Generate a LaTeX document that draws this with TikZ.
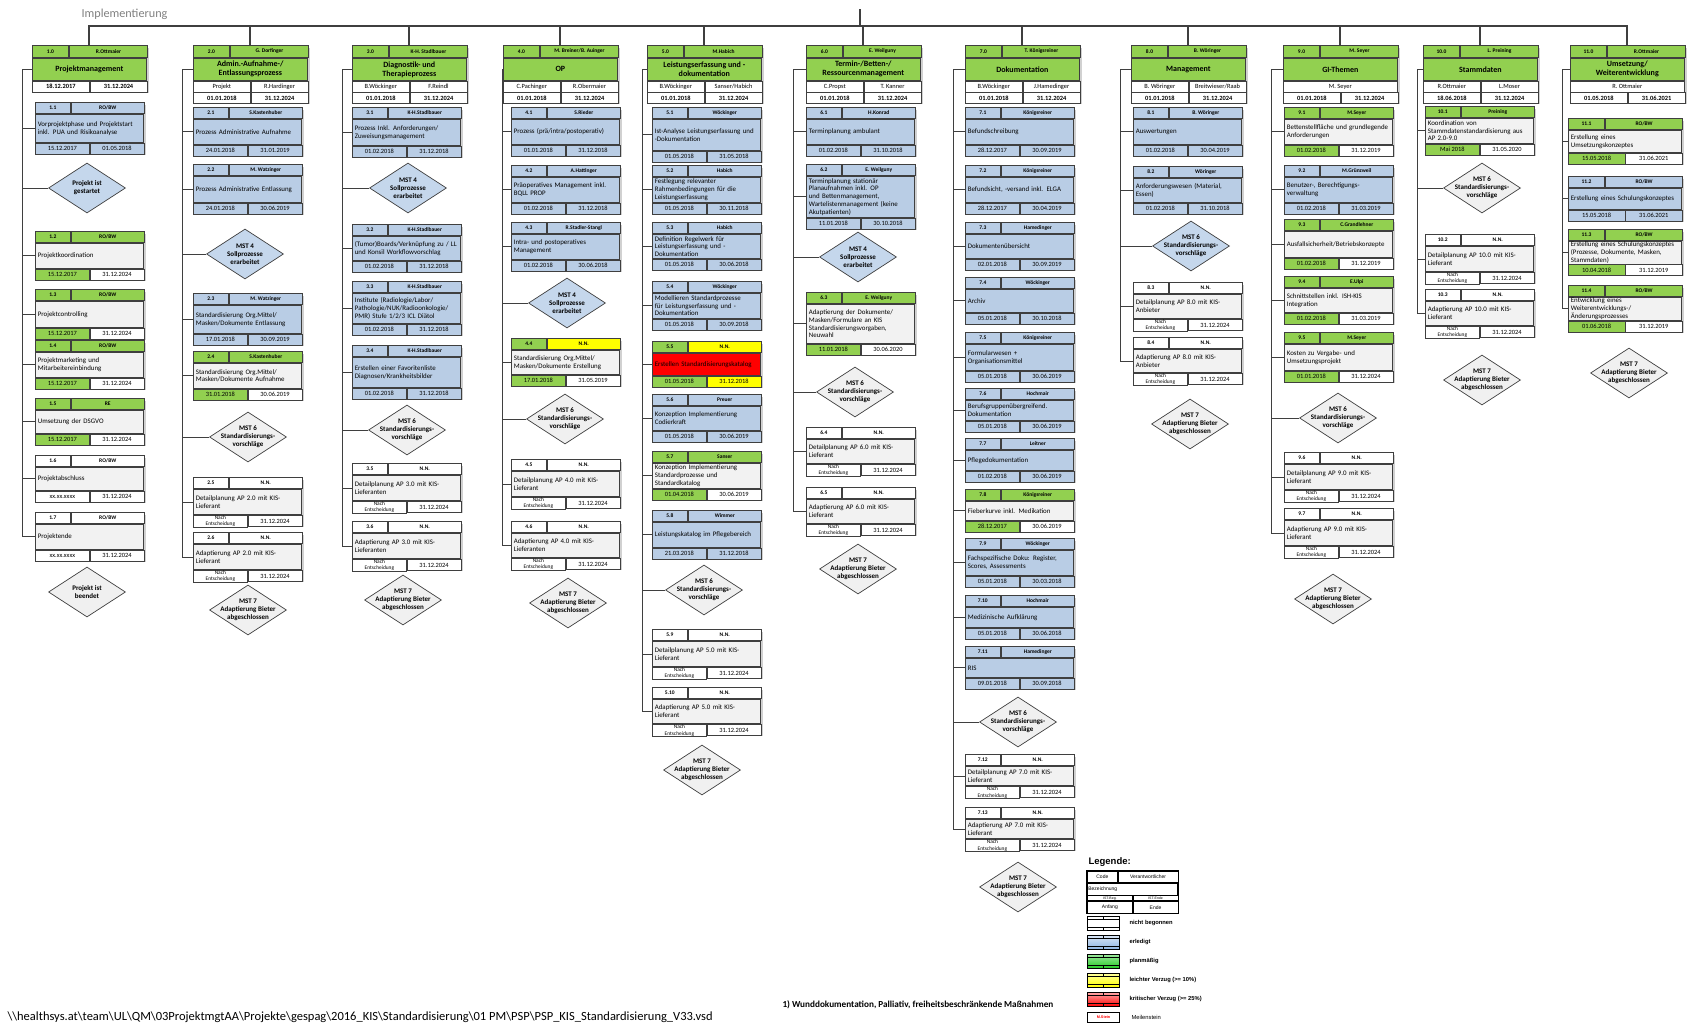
\documentclass[tikz,border=0pt]{standalone}
\usepackage{fontspec}
\setmainfont{Carlito}
\newfontfamily\legfont{Liberation Sans}
\usetikzlibrary{shapes.geometric,fit}
\hyphenpenalty=10000

\definecolor{wpgreen}{HTML}{92D050}
\definecolor{wpblue}{HTML}{B9CDE5}
\definecolor{wpyellow}{HTML}{FFFF00}
\definecolor{wpred}{HTML}{FF0000}
\definecolor{wpgray}{HTML}{F2F2F2}
\definecolor{msblue}{HTML}{C5D7EC}
\definecolor{msgray}{HTML}{F0F0F0}
\definecolor{wpline}{HTML}{3F3F3F}
\definecolor{lgblue}{HTML}{8EB4E3}
\definecolor{lggreen}{HTML}{22CC22}

\tikzset{
  cell/.style={draw=wpline, line width=0.7pt, inner sep=0.4pt, align=center, font=\fontsize{6.4}{6.8}\selectfont},
  topcell/.style={cell, line width=1pt, minimum height=11, font=\fontsize{5.5}{6}\selectfont\bfseries},
  midcell/.style={cell, align=left, inner xsep=2.5pt, inner ysep=0.8pt, font=\fontsize{6.9}{7.7}\selectfont},
  datecell/.style={cell, minimum height=11},
  hdinfo/.style={font=\fontsize{6.4}{6.8}\selectfont},
  hddate/.style={font=\fontsize{6.4}{6.8}\selectfont\bfseries},
  conn/.style={draw=wpline, line width=0.9pt},
  mstone/.style={diamond, draw=wpline, line width=0.7pt, aspect=1.54, inner sep=-2.6pt, minimum width=77, minimum height=50, align=center, font=\fontsize{7}{8}\selectfont\bfseries},
  lgcell/.style={draw=black, line width=0.7pt, inner sep=0.3pt, align=center, font=\legfont\fontsize{5}{5.5}\selectfont},
  swatch/.style={draw=black, line width=1pt, minimum width=32, minimum height=14, inner sep=0pt},
  lgtext/.style={font=\legfont\bfseries\fontsize{5.8}{6.5}\selectfont},
}

% Farbschema der Arbeitspakete
\newcommand\setfill[5]{\def\fA{#1}\def\fB{#2}\def\fC{#3}\def\fD{#4}\def\fE{#5}}
\newcommand\stblue{\setfill{wpblue}{wpblue}{wpblue}{wpblue}{wpblue}}
\newcommand\stgreen{\setfill{wpgreen}{wpgreen}{wpgray}{wpgreen}{white}}
\newcommand\stwhite{\setfill{white}{white}{wpgray}{white}{white}}
\newcommand\styellow{\setfill{wpgreen}{wpyellow}{wpgray}{wpgreen}{white}}
\newcommand\stred{\setfill{wpgreen}{wpyellow}{wpred}{wpgreen}{wpyellow}}
\newcommand\setw[1]{\def\wpw{#1}\pgfmathsetmacro\wpt{#1-5}\pgfmathsetmacro\wpa{0.32*#1}\pgfmathsetmacro\wpb{0.68*#1}\pgfmathsetmacro\wph{0.5*#1}}
\newcommand\nachE{{\fontsize{5.4}{5.4}\selectfont\shortstack{Nach\\Entscheidung}}}

% Arbeitspaket: name, x, y, hoehe, code, verantw., text, anfang, ende
\newcommand\wpbox[9]{%
  \fill[black!18] ({#2+2.5},{#3+2.5}) rectangle ++(\wpw,#4);
  \node[topcell, fill=\fA, minimum width=\wpa, anchor=north west] (#1c) at (#2,#3) {#5};
  \node[topcell, fill=\fB, minimum width=\wpb, anchor=west] (#1r) at (#1c.east) {#6};
  \node[midcell, fill=\fC, text width=\wpt pt, minimum height={#4-22}, anchor=north west] (#1m) at (#1c.south west) {#7};
  \node[datecell, fill=\fD, minimum width=\wph, anchor=north west] (#1s) at (#1m.south west) {#8};
  \node[datecell, fill=\fE, minimum width=\wph, anchor=west] (#1e) at (#1s.east) {#9};
  \node[fit=(#1c)(#1e), inner sep=0pt] (#1) {};
}
% Kopf einer Spalte: name, x, code, verantw., titel, gesamthoehe
\newcommand\hdbox[6]{%
  \fill[black!18] ({#2+2.5},47.5) rectangle ++(114,#6);
  \coordinate (#1) at ({#2+57},45);
  \node[topcell, fill=wpgreen, minimum width=36, minimum height=12, anchor=north west] (#1c) at (#2,45) {#3};
  \node[topcell, fill=wpgreen, minimum width=78, minimum height=12, anchor=west] (#1r) at (#1c.east) {#4};
  \node[cell, fill=wpgreen, minimum width=114, minimum height=22, anchor=north west, font=\fontsize{8}{9}\selectfont\bfseries] (#1t) at (#1c.south west) {#5};
}
\newcommand\hdrow[5]{%
  \node[cell, fill=white, #5, minimum width=57, minimum height=11, anchor=north west] (#2l) at (#1.south west) {#3};
  \node[cell, fill=white, #5, minimum width=57, minimum height=11, anchor=west] (#2r) at (#2l.east) {#4};
}

\begin{document}
\begin{tikzpicture}[x=1pt, y=-1pt]
\useasboundingbox (0,0) rectangle (1691,1031);

\node[anchor=west, text=black!50, font=\fontsize{12.2}{13}\selectfont] (impl) at (78,14) {Implementierung};
\coordinate (root) at (860,9);
\coordinate (bus) at (860,26);

\setw{108}
% 1.0 Projektmanagement
\hdbox{h1}{32}{1.0}{R.Ottmaier}{Projektmanagement}{45}
\hdrow{h1t}{h1a}{18.12.2017}{31.12.2024}{hddate}
\stblue
\wpbox{b11}{35}{102}{50}{1.1}{RO/BW}{Vorprojektphase und Projektstart inkl. PUA und Risikoanalyse}{15.12.2017}{01.05.2018}
\node[mstone, fill=msblue] (m1a) at (87,188) {Projekt ist\\gestartet};
\stgreen
\wpbox{b12}{35}{231}{47}{1.2}{RO/BW}{Projektkoordination}{15.12.2017}{31.12.2024}
\wpbox{b13}{35}{289}{48}{1.3}{RO/BW}{Projektcontrolling}{15.12.2017}{31.12.2024}
\wpbox{b14}{35}{340}{47}{1.4}{RO/BW}{Projektmarketing und Mitarbeitereinbindung}{15.12.2017}{31.12.2024}
\wpbox{b15}{35}{398}{45}{1.5}{RE}{Umsetzung der DSGVO}{15.12.2017}{31.12.2024}
\stwhite
\wpbox{b16}{35}{455}{45}{1.6}{RO/BW}{Projektabschluss}{xx.xx.xxxx}{31.12.2024}
\wpbox{b17}{35}{512}{47}{1.7}{RO/BW}{Projektende}{xx.xx.xxxx}{31.12.2024}
\node[mstone, fill=msgray] (m1b) at (87,592) {Projekt ist\\beendet};

% 2.0 Admin.-Aufnahme
\hdbox{h2}{193}{2.0}{G. Dorfinger}{Admin.-Aufnahme-/\\Entlassungsprozess}{56}
\hdrow{h2t}{h2a}{Projekt}{R.Hardinger}{hdinfo}
\hdrow{h2al}{h2b}{01.01.2018}{31.12.2024}{hddate}
\stblue
\wpbox{b21}{193}{107}{47}{2.1}{S.Kastenhuber}{Prozess Administrative Aufnahme}{24.01.2018}{31.01.2019}
\wpbox{b22}{193}{164}{48}{2.2}{M. Watzinger}{Prozess Administrative Entlassung}{24.01.2018}{30.06.2019}
\node[mstone, fill=msblue] (m24) at (245,254) {MST 4\\Sollprozesse\\erarbeitet};
\wpbox{b23}{193}{293}{50}{2.3}{M. Watzinger}{Standardisierung Org.Mittel/ Masken/Dokumente Entlassung}{17.01.2018}{30.09.2019}
\stgreen
\wpbox{b24}{193}{351}{47}{2.4}{S.Kastenhuber}{Standardisierung Org.Mittel/ Masken/Dokumente Aufnahme}{31.01.2018}{30.06.2019}
\node[mstone, fill=msgray] (m26) at (248,437) {MST 6\\Standardisierungs-\\vorschläge};
\stwhite
\wpbox{b25}{193}{477}{47}{2.5}{N.N.}{Detailplanung AP 2.0 mit KIS-Lieferant}{\nachE}{31.12.2024}
\wpbox{b26}{193}{532}{47}{2.6}{N.N.}{Adaptierung AP 2.0 mit KIS-Lieferant}{\nachE}{31.12.2024}
\node[mstone, fill=msgray] (m27) at (248,610) {MST 7\\Adaptierung Bieter\\abgeschlossen};

% 3.0 Diagnostik
\hdbox{h3}{352}{3.0}{K-H. Stadlbauer}{Diagnostik- und\\Therapieprozess}{56}
\hdrow{h3t}{h3a}{B.Wöckinger}{F.Reindl}{hdinfo}
\hdrow{h3al}{h3b}{01.01.2018}{31.12.2024}{hddate}
\stblue
\wpbox{b31}{352}{107}{48}{3.1}{K-H.Stadlbauer}{Prozess Inkl. Anforderungen/ Zuweisungsmanagement}{01.02.2018}{31.12.2018}
\node[mstone, fill=msblue] (m34) at (408,188) {MST 4\\Sollprozesse\\erarbeitet};
\wpbox{b32}{352}{224}{46}{3.2}{K-H.Stadlbauer}{(Tumor)Boards/Verknüpfung zu / LL und Konsil Workflowvorschlag}{01.02.2018}{31.12.2018}
\wpbox{b33}{352}{281}{52}{3.3}{K-H.Stadlbauer}{Institute (Radiologie/Labor/ Pathologie/NUK/Radioonkologie/ PMR) Stufe 1/2/3 ICL Diätol}{01.02.2018}{31.12.2018}
\wpbox{b34}{352}{345}{52}{3.4}{K-H.Stadlbauer}{\centering Erstellen einer Favoritenliste Diagnosen/Krankheitsbilder}{01.02.2018}{31.12.2018}
\node[mstone, fill=msgray] (m36) at (407,430) {MST 6\\Standardisierungs-\\vorschläge};
\stwhite
\wpbox{b35}{352}{463}{47}{3.5}{N.N.}{Detailplanung AP 3.0 mit KIS-Lieferanten}{\nachE}{31.12.2024}
\wpbox{b36}{352}{521}{47}{3.6}{N.N.}{Adaptierung AP 3.0 mit KIS-Lieferanten}{\nachE}{31.12.2024}
\node[mstone, fill=msgray] (m37) at (403,600) {MST 7\\Adaptierung Bieter\\abgeschlossen};

% 4.0 OP
\hdbox{h4}{503}{4.0}{M. Breiner/B. Auinger}{OP}{56}
\hdrow{h4t}{h4a}{C.Pachinger}{R.Obermaier}{hdinfo}
\hdrow{h4al}{h4b}{01.01.2018}{31.12.2024}{hddate}
\stblue
\wpbox{b41}{511}{107}{47}{4.1}{S.Rieder}{Prozess (prä/intra/postoperativ)}{01.01.2018}{31.12.2018}
\wpbox{b42}{511}{165}{47}{4.2}{A.Hattinger}{Präoperatives Management inkl. BQLL PROP}{01.02.2018}{31.12.2018}
\wpbox{b43}{511}{222}{47}{4.3}{R.Stadler-Stangl}{Intra- und postoperatives Management}{01.02.2018}{30.06.2018}
\node[mstone, fill=msblue] (m44) at (567,303) {MST 4\\Sollprozesse\\erarbeitet};
\styellow
\wpbox{b44}{511}{338}{46}{4.4}{N.N.}{Standardisierung Org.Mittel/ Masken/Dokumente Erstellung}{17.01.2018}{31.05.2019}
\node[mstone, fill=msgray] (m46) at (565,419) {MST 6\\Standardisierungs-\\vorschläge};
\stwhite
\wpbox{b45}{511}{459}{47}{4.5}{N.N.}{Detailplanung AP 4.0 mit KIS-Lieferant}{\nachE}{31.12.2024}
\wpbox{b46}{511}{521}{46}{4.6}{N.N.}{Adaptierung AP 4.0 mit KIS-Lieferanten}{\nachE}{31.12.2024}
\node[mstone, fill=msgray] (m47) at (568,603) {MST 7\\Adaptierung Bieter\\abgeschlossen};

% 5.0 Leistungserfassung
\hdbox{h5}{647}{5.0}{M.Habich}{Leistungserfassung und -\\dokumentation}{56}
\hdrow{h5t}{h5a}{B.Wöckinger}{Sanser/Habich}{hdinfo}
\hdrow{h5al}{h5b}{01.01.2018}{31.12.2024}{hddate}
\stblue
\wpbox{b51}{652}{107}{53}{5.1}{Wöckinger}{\centering Ist-Analyse Leistungserfassung und -Dokumentation}{01.05.2018}{31.05.2018}
\wpbox{b52}{652}{165}{47}{5.2}{Habich}{Festlegung relevanter Rahmenbedingungen für die Leistungserfassung}{01.05.2018}{30.11.2018}
\wpbox{b53}{652}{222}{46}{5.3}{Habich}{Definition Regelwerk für Leistungserfassung und -Dokumentation}{01.05.2018}{30.06.2018}
\wpbox{b54}{652}{281}{47}{5.4}{Wöckinger}{Modellieren Standardprozesse für Leistungserfassung und -Dokumentation}{01.05.2018}{30.09.2018}
\stred
\wpbox{b55}{652}{341}{44}{5.5}{N.N.}{Erstellen Standardisierungskatalog}{01.05.2018}{31.12.2018}
\stblue
\wpbox{b56}{652}{394}{46}{5.6}{Preuer}{Konzeption Implementierung Codierkraft}{01.05.2018}{30.06.2019}
\stgreen
\wpbox{b57}{652}{451}{47}{5.7}{Sanser}{Konzeption Implementierung Standardprozesse und Standardkatalog}{01.04.2018}{30.06.2019}
\stblue
\wpbox{b58}{652}{510}{47}{5.8}{Wimmer}{Leistungskatalog im Pflegebereich}{21.03.2018}{31.12.2018}
\node[mstone, fill=msgray] (m56) at (704,590) {MST 6\\Standardisierungs-\\vorschläge};
\stwhite
\wpbox{b59}{652}{629}{47}{5.9}{N.N.}{Detailplanung AP 5.0 mit KIS-Lieferant}{\nachE}{31.12.2024}
\wpbox{b510}{652}{687}{46}{5.10}{N.N.}{Adaptierung AP 5.0 mit KIS-Lieferant}{\nachE}{31.12.2024}
\node[mstone, fill=msgray] (m57) at (702,770) {MST 7\\Adaptierung Bieter\\abgeschlossen};

% 6.0 Termin-/Betten-/Ressourcenmanagement
\hdbox{h6}{806}{6.0}{E. Weilguny}{Termin-/Betten-/\\Ressourcenmanagement}{56}
\hdrow{h6t}{h6a}{C.Propst}{T. Kanner}{hdinfo}
\hdrow{h6al}{h6b}{01.01.2018}{31.12.2024}{hddate}
\stblue
\wpbox{b61}{806}{107}{47}{6.1}{H.Konrad}{Terminplanung ambulant}{01.02.2018}{31.10.2018}
\wpbox{b62}{806}{164}{63}{6.2}{E. Weilguny}{Terminplanung stationär Planaufnahmen inkl. OP und Bettenmanagement, Wartelistenmanagement (keine Akutpatienten)}{11.01.2018}{30.10.2018}
\node[mstone, fill=msblue] (m64) at (858,257) {MST 4\\Sollprozesse\\erarbeitet};
\stgreen
\wpbox{b63}{806}{292}{61}{6.3}{E. Weilguny}{Adaptierung der Dokumente/ Masken/Formulare an KIS Standardisierungsvorgaben, Neuwahl}{11.01.2018}{30.06.2020}
\node[mstone, fill=msgray] (m66) at (855,392) {MST 6\\Standardisierungs-\\vorschläge};
\stwhite
\wpbox{b64}{806}{427}{46}{6.4}{N.N.}{Detailplanung AP 6.0 mit KIS-Lieferant}{\nachE}{31.12.2024}
\wpbox{b65}{806}{487}{46}{6.5}{N.N.}{Adaptierung AP 6.0 mit KIS-Lieferant}{\nachE}{31.12.2024}
\node[mstone, fill=msgray] (m67) at (858,569) {MST 7\\Adaptierung Bieter\\abgeschlossen};

% 7.0 Dokumentation
\hdbox{h7}{965}{7.0}{T. Königsreiner}{Dokumentation}{56}
\hdrow{h7t}{h7a}{B.Wöckinger}{J.Hamedinger}{hdinfo}
\hdrow{h7al}{h7b}{01.01.2018}{31.12.2024}{hddate}
\stblue
\wpbox{b71}{965}{107}{47}{7.1}{Königsreiner}{Befundschreibung}{28.12.2017}{30.09.2019}
\wpbox{b72}{965}{165}{47}{7.2}{Königsreiner}{Befundsicht, -versand inkl. ELGA}{28.12.2017}{30.04.2019}
\wpbox{b73}{965}{222}{46}{7.3}{Hamedinger}{Dokumentenübersicht}{02.01.2018}{30.09.2019}
\wpbox{b74}{965}{277}{45}{7.4}{Wöckinger}{\centering Archiv}{05.01.2018}{30.10.2018}
\wpbox{b75}{965}{332}{48}{7.5}{Königsreiner}{Formularwesen + Organisationsmittel}{05.01.2018}{30.06.2019}
\wpbox{b76}{965}{388}{42}{7.6}{Hochmair}{Berufsgruppenübergreifend. Dokumentation}{05.01.2018}{30.06.2019}
\wpbox{b77}{965}{438}{42}{7.7}{Leitner}{Pflegedokumentation}{01.02.2018}{30.06.2019}
\stgreen
\wpbox{b78}{965}{489}{41}{7.8}{Königsreiner}{Fieberkurve inkl. Medikation}{28.12.2017}{30.06.2019}
\stblue
\wpbox{b79}{965}{538}{47}{7.9}{Wöckinger}{\centering Fachspezifische Doku: Register, Scores, Assessments}{05.01.2018}{30.03.2018}
\wpbox{b710}{965}{595}{42}{7.10}{Hochmair}{Medizinische Aufklärung}{05.01.2018}{30.06.2018}
\wpbox{b711}{965}{646}{41}{7.11}{Hamedinger}{RIS}{09.01.2018}{30.09.2018}
\node[mstone, fill=msgray] (m76) at (1018,722) {MST 6\\Standardisierungs-\\vorschläge};
\stwhite
\wpbox{b712}{965}{754}{41}{7.12}{N.N.}{Detailplanung AP 7.0 mit KIS-Lieferant}{\nachE}{31.12.2024}
\wpbox{b713}{965}{807}{41}{7.13}{N.N.}{Adaptierung AP 7.0 mit KIS-Lieferant}{\nachE}{31.12.2024}
\node[mstone, fill=msgray] (m77) at (1018,887) {MST 7\\Adaptierung Bieter\\abgeschlossen};

% 8.0 Management
\hdbox{h8}{1131}{8.0}{B. Wöringer}{Management}{56}
\hdrow{h8t}{h8a}{B. Wöringer}{Breitwieser/Raab}{hdinfo}
\hdrow{h8al}{h8b}{01.01.2018}{31.12.2024}{hddate}
\stblue
\wpbox{b81}{1133}{107}{47}{8.1}{B. Wöringer}{Auswertungen}{01.02.2018}{30.04.2019}
\wpbox{b82}{1133}{166}{46}{8.2}{Wöringer}{\centering Anforderungswesen (Material, Essen)}{01.02.2018}{31.10.2018}
\node[mstone, fill=msblue] (m86) at (1191,246) {MST 6\\Standardisierungs-\\vorschläge};
\stwhite
\wpbox{b83}{1133}{282}{46}{8.3}{N.N.}{Detailplanung AP 8.0 mit KIS-Anbieter}{\nachE}{31.12.2024}
\wpbox{b84}{1133}{337}{45}{8.4}{N.N.}{Adaptierung AP 8.0 mit KIS-Anbieter}{\nachE}{31.12.2024}
\node[mstone, fill=msgray] (m87) at (1190,424) {MST 7\\Adaptierung Bieter\\abgeschlossen};

% 9.0 GI-Themen
\hdbox{h9}{1283}{9.0}{M. Seyer}{GI-Themen}{56}
\node[cell, fill=white, hdinfo, minimum width=114, minimum height=11, anchor=north west] (h9a) at (h9t.south west) {M. Seyer};
\hdrow{h9a}{h9b}{01.01.2018}{31.12.2024}{hddate}
\stgreen
\wpbox{b91}{1284}{107}{47}{9.1}{M.Seyer}{Bettenstellfläche und grundlegende Anforderungen}{01.02.2018}{31.12.2019}
\stblue
\wpbox{b92}{1284}{165}{47}{9.2}{M.Grünzweil}{Benutzer-, Berechtigungs-verwaltung}{01.02.2018}{31.03.2019}
\stgreen
\wpbox{b93}{1284}{219}{48}{9.3}{C.Grandlehner}{Ausfallsicherheit/Betriebskonzepte}{01.02.2018}{31.12.2019}
\wpbox{b94}{1284}{276}{46}{9.4}{E.Ulpi}{Schnittstellen inkl. ISH-KIS Integration}{01.02.2018}{31.03.2019}
\wpbox{b95}{1284}{332}{48}{9.5}{M.Seyer}{Kosten zu Vergabe- und Umsetzungsprojekt}{01.01.2018}{31.12.2024}
\node[mstone, fill=msgray] (m96) at (1338,418) {MST 6\\Standardisierungs-\\vorschläge};
\stwhite
\wpbox{b96}{1284}{452}{47}{9.6}{N.N.}{Detailplanung AP 9.0 mit KIS-Lieferant}{\nachE}{31.12.2024}
\wpbox{b97}{1284}{508}{47}{9.7}{N.N.}{Adaptierung AP 9.0 mit KIS-Lieferant}{\nachE}{31.12.2024}
\node[mstone, fill=msgray] (m97) at (1333,599) {MST 7\\Adaptierung Bieter\\abgeschlossen};

% 10.0 Stammdaten
\hdbox{h10}{1423}{10.0}{L. Preining}{Stammdaten}{56}
\hdrow{h10t}{h10a}{R.Ottmaier}{L.Moser}{hdinfo}
\hdrow{h10al}{h10b}{18.06.2018}{31.12.2024}{hddate}
\stgreen
\wpbox{b101}{1425}{106}{47}{10.1}{Preining}{Koordination von Stammdatenstandardisierung aus AP 2.0-9.0}{Mai 2018}{31.05.2020}
\node[mstone, fill=msgray] (m106) at (1482,188) {MST 6\\Standardisierungs-\\vorschläge};
\stwhite
\wpbox{b102}{1425}{234}{47}{10.2}{N.N.}{Detailplanung AP 10.0 mit KIS-Lieferant}{\nachE}{31.12.2024}
\wpbox{b103}{1425}{289}{46}{10.3}{N.N.}{Adaptierung AP 10.0 mit KIS-Lieferant}{\nachE}{31.12.2024}
\node[mstone, fill=msgray] (m107) at (1482,380) {MST 7\\Adaptierung Bieter\\abgeschlossen};

% 11.0 Umsetzung
\setw{113}
\hdbox{h11}{1570}{11.0}{R.Ottmaier}{Umsetzung/\\Weiterentwicklung}{56}
\node[cell, fill=white, hdinfo, minimum width=114, minimum height=11, anchor=north west] (h11a) at (h11t.south west) {R. Ottmaier};
\hdrow{h11a}{h11b}{01.05.2018}{31.06.2021}{hddate}
\stgreen
\wpbox{b111}{1568}{118}{44}{11.1}{RO/BW}{Erstellung eines Umsetzungskonzeptes}{15.05.2018}{31.06.2021}
\stblue
\wpbox{b112}{1568}{176}{43}{11.2}{RO/BW}{Erstellung eines Schulungskonzeptes}{15.05.2018}{31.06.2021}
\stgreen
\wpbox{b113}{1568}{229}{44}{11.3}{RO/BW}{Erstellung eines Schulungskonzeptes (Prozesse, Dokumente, Masken, Stammdaten)}{10.04.2018}{31.12.2019}
\wpbox{b114}{1568}{285}{45}{11.4}{RO/BW}{Entwicklung eines Weiterentwicklungs-/ Änderungsprozesses}{01.06.2018}{31.12.2019}
\node[mstone, fill=msgray] (m117) at (1629,373) {MST 7\\Adaptierung Bieter\\abgeschlossen};

% Baum oben
\draw[conn, line width=1.2pt] (root) -- (bus);
\foreach \i in {1,...,11}
  \draw[conn, line width=1.2pt] (bus) -| (h\i);

% Spalten-Leitungen
\draw[conn] (h1t.west) -- ++(-10,0) coordinate (sp1);
\draw[conn] (h2t.west) -- ++(-11,0) coordinate (sp2);
\draw[conn] (h3t.west) -- ++(-10,0) coordinate (sp3);
\draw[conn] (h4t.west) -- ++(-1,0) coordinate (sp4);
\draw[conn] (h5t.west) -- ++(-5,0) coordinate (sp5);
\draw[conn] (h6t.west) -- ++(-13,0) coordinate (sp6);
\draw[conn] (h7t.west) -- ++(-12,0) coordinate (sp7);
\draw[conn] (h8t.west) -- ++(-11,0) coordinate (sp8);
\draw[conn] (h9t.west) -- ++(-12,0) coordinate (sp9);
\draw[conn] (h10t.west) -- ++(-6,0) coordinate (sp10);
\draw[conn] (h11t.west) -- ++(-8,0) coordinate (sp11);
\foreach \b in {b11,m1a,b12,b13,b14,b15,b16,b17} \draw[conn] (sp1) |- (\b.west);
\foreach \b in {b21,b22,m24,b23,b24,m26,b25,b26} \draw[conn] (sp2) |- (\b.west);
\foreach \b in {b31,m34,b32,b33,b34,m36,b35,b36} \draw[conn] (sp3) |- (\b.west);
\foreach \b in {b41,b42,b43,m44,b44,m46,b45,b46} \draw[conn] (sp4) |- (\b.west);
\foreach \b in {b51,b52,b53,b54,b55,b56,b57,b58,m56,b59,b510} \draw[conn] (sp5) |- (\b.west);
\foreach \b in {b61,b62,m64,b63,m66,b64,b65} \draw[conn] (sp6) |- (\b.west);
\foreach \b in {b71,b72,b73,b74,b75,b76,b77,b78,b79,b710,b711,m76,b712,b713} \draw[conn] (sp7) |- (\b.west);
\foreach \b in {b81,b82,m86,b83,b84} \draw[conn] (sp8) |- (\b.west);
\foreach \b in {b91,b92,b93,b94,b95,m96,b96,b97} \draw[conn] (sp9) |- (\b.west);
\foreach \b in {b101,m106,b102,b103} \draw[conn] (sp10) |- (\b.west);
\foreach \b in {b111,b112,b113,b114} \draw[conn] (sp11) |- (\b.west);

% Legende
\node[anchor=west, font=\legfont\bfseries\fontsize{9.5}{10}\selectfont] (leg) at (1085,862) {Legende:};
\node[lgcell, minimum width=30, minimum height=11, anchor=north west] (lgc) at (1087,871) {Code};
\node[lgcell, minimum width=60, minimum height=11, anchor=west] (lgv) at (lgc.east) {Verantwortlicher};
\node[lgcell, minimum width=90, minimum height=12, anchor=north west, align=left, text width=88pt] (lgb) at (lgc.south west) {Bezeichnung};
\node[lgcell, minimum width=45, minimum height=5, anchor=north west, font=\legfont\fontsize{3.5}{3.5}\selectfont] (lgi) at (lgb.south west) {IST-Beg.};
\node[lgcell, minimum width=45, minimum height=5, anchor=west, font=\legfont\fontsize{3.5}{3.5}\selectfont] (lgj) at (lgi.east) {IST-Ende};
\node[lgcell, minimum width=45, minimum height=12, anchor=north west] (lga) at (lgi.south west) {Anfang};
\node[lgcell, minimum width=45, minimum height=12, anchor=west] (lge) at (lga.east) {Ende};
\draw[line width=1.3pt] (lgc.north west) rectangle (lge.south east);
\foreach \tc/\bc/\lab [count=\i] in {white/white/nicht begonnen, lgblue!35/lgblue/erledigt, lggreen!45/lggreen/planmäßig, yellow!40/yellow/leichter Verzug (>= 10\%), red!35/red/kritischer Verzug (>= 25\%)}
{
  \node[swatch, top color=\tc, bottom color=\bc, anchor=north west] (sw\i) at (1087,{916+19*(\i-1)}) {};
  \draw ([yshift=-3.5pt]sw\i.north west) -- ([yshift=-3.5pt]sw\i.north east)
        (sw\i.north) -- ([yshift=-3.5pt]sw\i.north)
        ([yshift=3.5pt]sw\i.south west) -- ([yshift=3.5pt]sw\i.south east)
        (sw\i.south) -- ([yshift=3.5pt]sw\i.south);
  \node[lgtext, anchor=west] (sl\i) at (1126,{923+19*(\i-1)}) {\lab};
}
\node[swatch, minimum height=10, anchor=north west, text=red, font=\legfont\bfseries\fontsize{3.8}{4}\selectfont] (sw6) at (1087,1012) {M.Stein};
\node[anchor=west, font=\legfont\fontsize{5.8}{6.5}\selectfont] (sl6) at (1128,1017) {Meilenstein};

% Fusszeile
\node[anchor=west, font=\bfseries\fontsize{9.2}{10}\selectfont] (fn) at (779,1005) {1) Wunddokumentation, Palliativ, freiheitsbeschränkende Maßnahmen};
\node[anchor=west, font=\fontsize{12.5}{13}\selectfont] (path) at (4,1017) {\textbackslash\textbackslash healthsys.at\textbackslash team\textbackslash UL\textbackslash QM\textbackslash 03ProjektmgtAA\textbackslash Projekte\textbackslash gespag\textbackslash 2016\_KIS\textbackslash Standardisierung\textbackslash 01 PM\textbackslash PSP\textbackslash PSP\_KIS\_Standardisierung\_V33.vsd};
\end{tikzpicture}
\end{document}
